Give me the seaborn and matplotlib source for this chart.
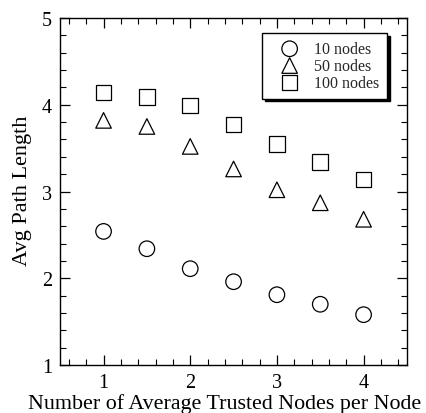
import matplotlib
matplotlib.use("Agg")
import matplotlib.pyplot as plt
from matplotlib.ticker import MultipleLocator
import seaborn as sns
import pandas as pd

# Average number of trusted nodes per node
trusted = [1.0, 1.5, 2.0, 2.5, 3.0, 3.5, 4.0]

# Average path length for each network size
path_10 = [2.54, 2.34, 2.11, 1.96, 1.81, 1.70, 1.58]
path_50 = [3.82, 3.75, 3.52, 3.26, 3.02, 2.87, 2.68]
path_100 = [4.14, 4.09, 3.99, 3.77, 3.55, 3.34, 3.14]

series_labels = ["10 nodes", "50 nodes", "100 nodes"]
series_markers = ["o", "^", "s"]

sns.set_theme(style="ticks")
plt.rcParams["font.family"] = ["Liberation Serif", "DejaVu Serif"]

fig, ax = plt.subplots(figsize=(4.27, 4.14), dpi=100)
fig.subplots_adjust(left=0.141, right=0.953, top=0.954, bottom=0.116)

for vals, label, marker in zip([path_10, path_50, path_100], series_labels, series_markers):
    df = pd.DataFrame({"x": trusted, "y": vals})
    sns.scatterplot(data=df, x="x", y="y", marker=marker, s=125, color="black",
                    linewidth=0.9, label=label, ax=ax, legend=False)

for coll in ax.collections:
    coll.set_facecolor("none")
    coll.set_edgecolor("black")

ax.set_xlim(0.5, 4.5)
ax.set_ylim(1, 5)
ax.xaxis.set_major_locator(MultipleLocator(1))
ax.xaxis.set_minor_locator(MultipleLocator(0.2))
ax.yaxis.set_major_locator(MultipleLocator(1))
ax.yaxis.set_minor_locator(MultipleLocator(0.2))
ax.tick_params(which="both", direction="in", top=True, right=True, colors="black")
ax.tick_params(which="major", length=7, width=0.9, labelsize=14.5, pad=6)
ax.tick_params(which="minor", length=4, width=0.8)
for sp in ax.spines.values():
    sp.set_color("black")
    sp.set_linewidth(1.0)

ax.set_xlabel("Number of Average Trusted Nodes per Node", fontsize=15.8, color="black")
ax.xaxis.set_label_coords(0.475, -0.082)
ax.set_ylabel("Avg Path Length", fontsize=16, color="black")
ax.yaxis.set_label_coords(-0.082, 0.504)

leg = ax.legend(handles=ax.collections, labels=series_labels, loc="upper right",
                bbox_to_anchor=(0.942, 0.957), borderaxespad=0.0, fontsize=11.5,
                frameon=True, fancybox=False,
                shadow={"color": "black", "alpha": 1.0}, edgecolor="black",
                framealpha=1.0, borderpad=0.5, handletextpad=0.3, labelspacing=0.05,
                handlelength=2.4)
leg.get_frame().set_linewidth(1.0)

fig.savefig("out.png", dpi=100)
